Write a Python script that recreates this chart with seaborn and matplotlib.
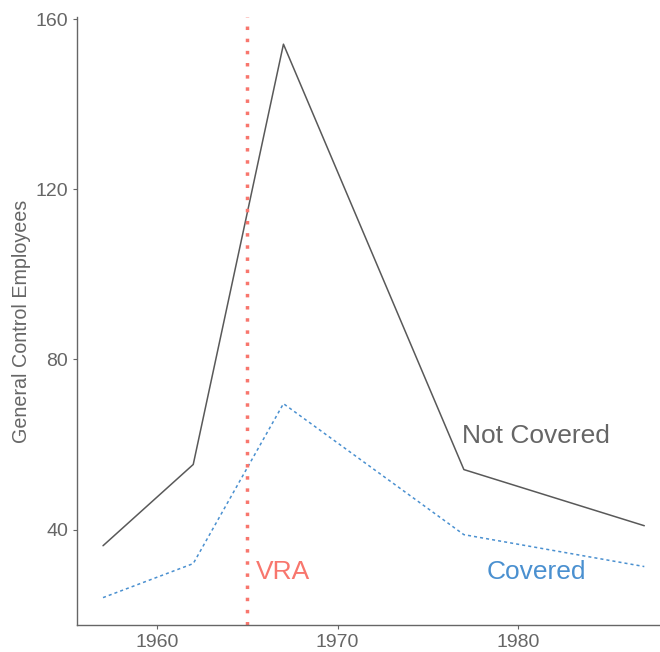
import matplotlib
matplotlib.use("Agg")
import matplotlib.pyplot as plt
import seaborn as sns
import pandas as pd

# Data
years = [1957, 1962, 1967, 1977, 1987]
not_covered = [36.2, 55.3, 154.1, 54.1, 40.9]
covered = [24.0, 32.0, 69.6, 38.8, 31.3]
vra_year = 1965

df = pd.DataFrame({
    'Year': years * 2,
    'Employees': not_covered + covered,
    'Group': ['Not Covered'] * len(years) + ['Covered'] * len(years),
})

sns.set_style('white')
plt.rcParams['font.family'] = ['Liberation Sans', 'DejaVu Sans']

fig, ax = plt.subplots(figsize=(6.6, 6.52), dpi=100)

gray = '#595959'
blue = '#4A90D0'
salmon = '#F8766D'

sns.lineplot(data=df, x='Year', y='Employees', hue='Group', style='Group',
             palette={'Not Covered': gray, 'Covered': blue},
             dashes={'Not Covered': '', 'Covered': (2, 2)},
             linewidth=1.1, legend=False, ax=ax)
ax.axvline(vra_year, color=salmon, linestyle=(0, (1, 2.5)), linewidth=2.5)

ax.text(vra_year + 0.5, 30, 'VRA', color=salmon, fontsize=19, va='center', ha='left')
ax.text(1981, 30, 'Covered', color=blue, fontsize=19, va='center', ha='center')
ax.text(1981, 62, 'Not Covered', color='#666666', fontsize=19, va='center', ha='center')

ax.set_xlim(1955.57, 1987.87)
ax.set_ylim(17.5, 160.5)
ax.set_xticks([1960, 1970, 1980])
ax.set_yticks([40, 80, 120, 160])
ax.set_xlabel('')
ax.set_ylabel('General Control Employees', fontsize=14.2, color='#666666')
ax.yaxis.set_label_coords(-0.08, 0.5)
ax.tick_params(axis='both', labelsize=14, labelcolor='#666666', color='#666666',
               length=3, width=0.8, left=True, bottom=True)
sns.despine(ax=ax)
for s in ['left', 'bottom']:
    ax.spines[s].set_color('#666666')
    ax.spines[s].set_linewidth(1)

plt.subplots_adjust(left=0.117, right=1.0, bottom=0.041, top=0.974)
plt.savefig('out.png', dpi=100)
